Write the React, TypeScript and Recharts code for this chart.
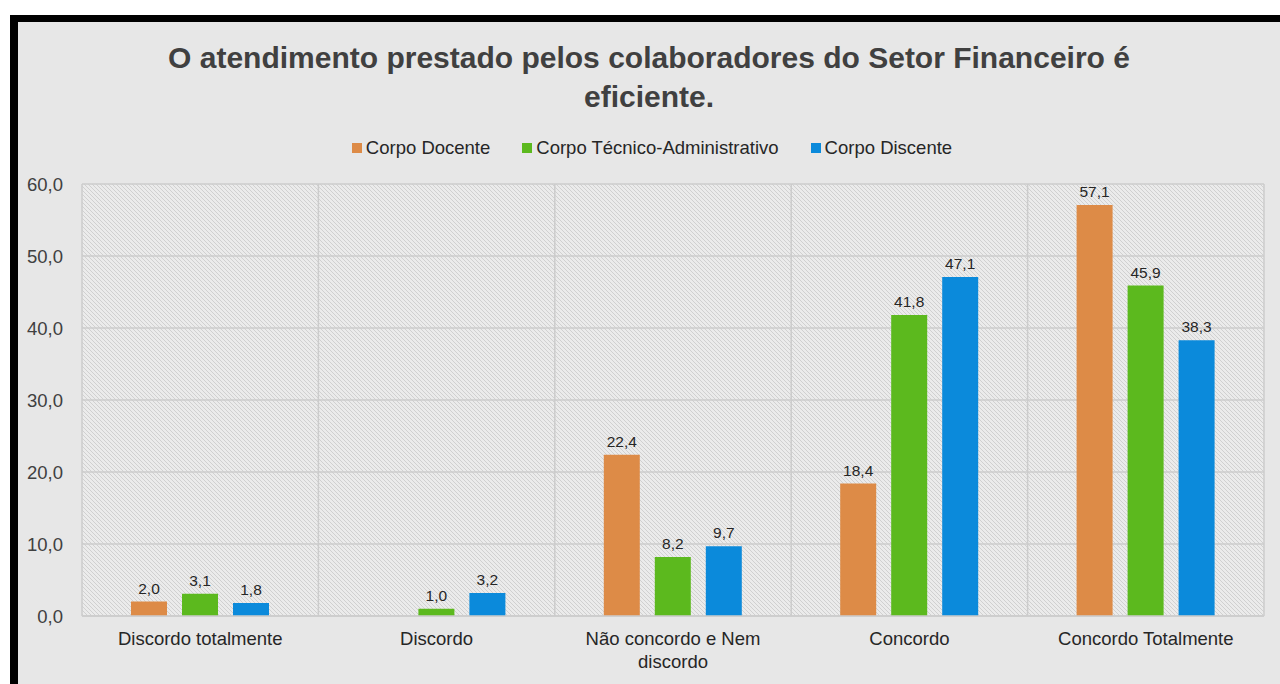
import React from "react";
import { BarChart, Bar, XAxis, YAxis, CartesianGrid, LabelList } from "recharts";

const categories = [
  "Discordo totalmente",
  "Discordo",
  "Não concordo e Nem discordo",
  "Concordo",
  "Concordo Totalmente",
];
const docente = [2.0, 0, 22.4, 18.4, 57.1];
const tecnico = [3.1, 1.0, 8.2, 41.8, 45.9];
const discente = [1.8, 3.2, 9.7, 47.1, 38.3];
const yTicks = [0, 10, 20, 30, 40, 50, 60];

const seriesNames = ["Corpo Docente", "Corpo Técnico-Administrativo", "Corpo Discente"];
const seriesColors = ["#DD8B47", "#5CB91E", "#0B8ADB"];
const seriesKeys = ["docente", "tecnico", "discente"];

const data = categories.map((name, i) => ({
  name,
  docente: docente[i],
  tecnico: tecnico[i],
  discente: discente[i],
}));

const FONT = "'Liberation Sans', Arial, sans-serif";
const fmt = (v: number) => v.toFixed(1).replace(".", ",");

// split long category labels into lines of at most 20 chars
function wrapLabel(s: string, max = 20) {
  const words = s.split(" ");
  const lines: string[] = [];
  let cur = "";
  for (const w of words) {
    const next = cur ? cur + " " + w : w;
    if (next.length > max && cur) {
      lines.push(cur);
      cur = w;
    } else cur = next;
  }
  if (cur) lines.push(cur);
  return lines;
}

const CategoryTick = (props: any) => {
  const { x, y, payload } = props;
  const lines = wrapLabel(payload.value);
  return (
    <text x={x} y={y} textAnchor="middle" fill="#262626" fontSize={18.5} fontFamily={FONT}>
      {lines.map((l, i) => (
        <tspan key={i} x={x} dy={i === 0 ? 21 : 23}>{l}</tspan>
      ))}
    </text>
  );
};

const renderValue = (props: any) => {
  const { x, y, width, value } = props;
  if (value === 0) return null;
  return (
    <text x={x + width / 2} y={y - 8} textAnchor="middle" fill="#262626" fontSize={15.5} fontFamily={FONT}>
      {fmt(value)}
    </text>
  );
};

export default function App() {
  return (
    <div style={{ position: "absolute", left: 0, top: 0, width: 1280, height: 684, background: "#fff", overflow: "hidden" }}>
      <div
        style={{
          position: "absolute", left: 10, top: 15, width: 1270, height: 669,
          borderLeft: "8px solid #000", borderTop: "7px solid #000", background: "#e7e7e7", boxSizing: "border-box",
        }}
      />
      <div
        style={{
          position: "absolute", left: 18, top: 38, width: 1262, textAlign: "center",
          fontFamily: FONT, fontWeight: "bold", fontSize: 30,
          lineHeight: "39px", color: "#404040",
        }}
      >
        O atendimento prestado pelos colaboradores do Setor Financeiro é
        <br />
        eficiente.
      </div>
      <div
        style={{
          position: "absolute", left: 0, top: 137, width: 1280, display: "flex", justifyContent: "center",
          paddingLeft: 24, boxSizing: "border-box",
          fontFamily: FONT, fontSize: 18.5, color: "#262626",
        }}
      >
        {seriesNames.map((n, i) => (
          <div key={n} style={{ display: "flex", alignItems: "center", marginRight: i < 2 ? 32 : 0 }}>
            <span style={{ display: "inline-block", width: 10, height: 10, background: seriesColors[i], marginRight: 4 }} />
            {n}
          </div>
        ))}
      </div>
      <div style={{ position: "absolute", left: 0, top: 0 }}>
        <BarChart
          width={1280}
          height={684}
          data={data}
          margin={{ top: 184, right: 16, left: 22, bottom: 0 }}
          barSize={36}
          barGap={15}
        >
          <defs>
            <pattern id="hatch" patternUnits="userSpaceOnUse" width="4" height="4">
              <rect width="4" height="4" fill="#ebebeb" />
              <path d="M-1,-1 l2,2 M0,0 l4,4 M3,3 l2,2" stroke="#d0d0d0" strokeWidth="1" />
            </pattern>
          </defs>
          <CartesianGrid
            fill="url(#hatch)"
            fillOpacity={1}
            stroke="#cccccc"
            strokeWidth={1.5}
            verticalCoordinatesGenerator={({ offset }: any) =>
              categories.map((_, i) => offset.left + (i * offset.width) / categories.length).concat(offset.left + offset.width)
            }
          />
          <XAxis
            dataKey="name"
            axisLine={{ stroke: "#cccccc", strokeWidth: 1.5 }}
            tickLine={false}
            tick={<CategoryTick />}
            interval={0}
            height={68}
          />
          <YAxis
            domain={[0, 60]}
            ticks={yTicks}
            width={60}
            axisLine={false}
            tickLine={false}
            tickSize={0}
            tickMargin={19}
            tickFormatter={fmt}
            tick={{ fill: "#404040", fontSize: 18.5, fontFamily: FONT }}
          />
          {seriesKeys.map((k, i) => (
            <Bar key={k} dataKey={k} name={seriesNames[i]} fill={seriesColors[i]} isAnimationActive={false}>
              <LabelList dataKey={k} content={renderValue} />
            </Bar>
          ))}
        </BarChart>
      </div>
    </div>
  );
}
